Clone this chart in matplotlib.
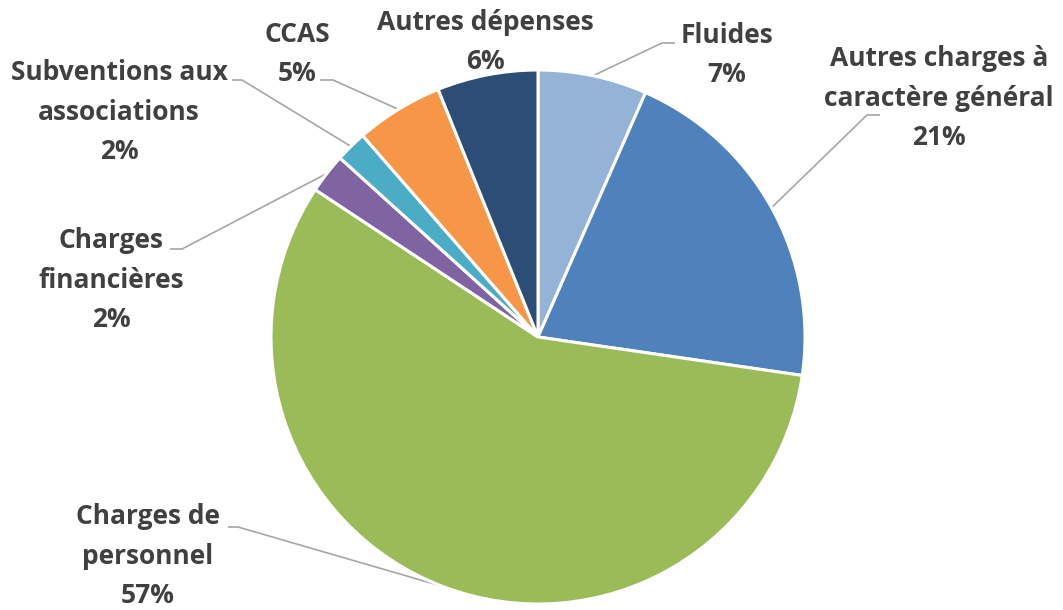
import numpy as np
import matplotlib
matplotlib.use('Agg')
import matplotlib.pyplot as plt

# Répartition des dépenses de fonctionnement (%)
categories = ['Fluides', 'Autres charges à\ncaractère général', 'Charges de\npersonnel',
              'Charges\nfinancières', 'Subventions aux\nassociations', 'CCAS', 'Autres dépenses']
values = [6.6, 20.7, 57.0, 2.4, 1.9, 5.3, 6.1]
colors = ['#95B3D7', '#4F81BD', '#9BBB59', '#8064A2', '#4BACC6', '#F79646', '#2C4D75']

W, H = 1063, 610
cx, cy, R = 538, H - 337, 267

# label block centres (px, y from top) and leader elbow/stub ends (None = no leader)
label_pos = [(727, 55), (939, 98), (148, 556), (111, 280), (119, 112), (297, 54), (485, 42)]
leaders = [((662, 43), (675, 43)), ((867, 115), (880, 115)), ((238, 527), (228, 527)),
           ((182, 249), (170, 249)), ((242, 80), (232, 80)), ((333, 80), (320, 80)), None]

fig = plt.figure(figsize=(W / 100, H / 100), dpi=100)
ax = fig.add_axes([0, 0, 1, 1])

wedges, _ = ax.pie(values, colors=colors, startangle=90, counterclock=False,
                   center=(cx, cy), radius=R,
                   wedgeprops=dict(edgecolor='white', linewidth=2.2))
ax.set_xlim(0, W)
ax.set_ylim(0, H)
ax.set_aspect('equal')
ax.axis('off')

for w, cat, v, pos, ld in zip(wedges, categories, values, label_pos, leaders):
    txt = f"{cat}\n{int(v + 0.5)}%"
    ax.text(pos[0], H - pos[1], txt, ha='center', va='center', multialignment='center',
            fontsize=19, fontweight='bold', family='Open Sans', color='#404040',
            linespacing=1.6)
    if ld is None:
        continue
    mid = np.deg2rad((w.theta1 + w.theta2) / 2)
    px, py = cx + R * np.cos(mid), cy + R * np.sin(mid)
    (ex, ey), (sx, sy) = ld
    ax.plot([px, ex, sx], [py, H - ey, H - sy], color='#A6A6A6', lw=1.2,
            solid_capstyle='butt', zorder=0)

fig.savefig('out.png', dpi=100)
